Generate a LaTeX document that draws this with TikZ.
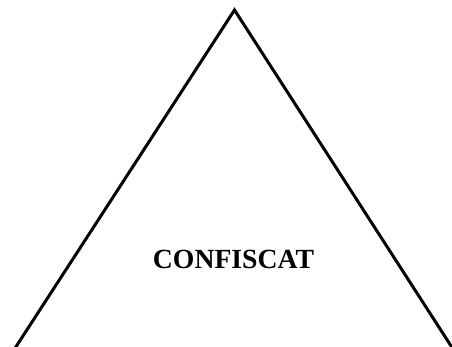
\documentclass[tikz,border=0pt]{standalone}
\usepackage{fontspec}
\setmainfont{Liberation Serif}
\begin{document}
\begin{tikzpicture}[x=1pt,y=-1pt,
  side/.style={line width=3pt,line join=miter},
  label/.style={font=\fontsize{27.7}{32}\selectfont\bfseries,inner sep=0pt,anchor=base}]
\useasboundingbox (0,0) rectangle (452,347);
\clip (0,0) rectangle (452,347);
\coordinate (apex) at (234.5,10);
\coordinate (left) at (14.5,349);
\coordinate (right) at (453,349);
\draw[side] (left) -- (apex) -- (right);
\node[label] (txt) at (233.5,268) {CONFISCAT};
\end{tikzpicture}
\end{document}
